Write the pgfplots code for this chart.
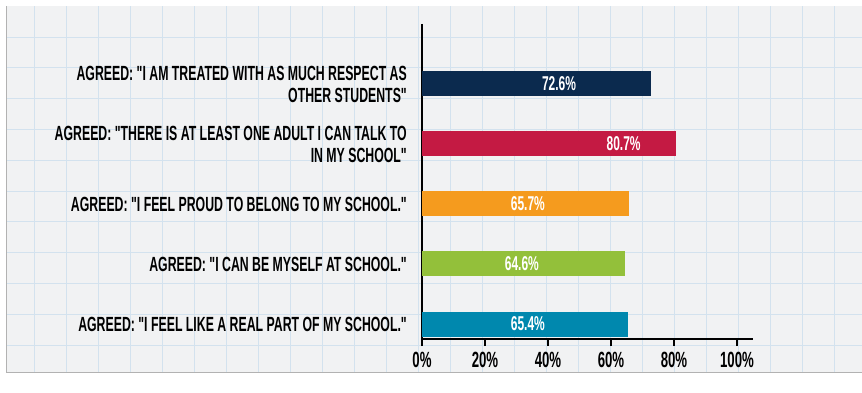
\documentclass[border=0pt]{standalone}
\usepackage{pgfplots}
\pgfplotsset{compat=1.18}
\usepackage{fontspec}
\setmainfont{Liberation Sans}
\newfontfamily\hand[FakeStretch=0.6]{Liberation Sans Bold}

\definecolor{barnavy}{HTML}{0B2A4E}
\definecolor{barred}{HTML}{C41A43}
\definecolor{barorange}{HTML}{F59B1E}
\definecolor{bargreen}{HTML}{93C03A}
\definecolor{barteal}{HTML}{0088AE}
\definecolor{paper}{HTML}{F1F2F3}
\definecolor{gridc}{HTML}{D3E2EE}

\begin{document}
\begin{tikzpicture}[x=1pt,y=1pt,
  hbar/.style={xbar, bar shift=0pt, bar width=25pt, draw=none},
]
\path[use as bounding box] (0,0) rectangle (862,393);
% graph paper
\fill[paper] (6,21) rectangle (862,387);
\foreach \x in {34,66,...,862} \draw[gridc, line width=0.9pt] (\x,21) -- (\x,387);
\foreach \k in {1,...,11} {
  \pgfmathsetmacro{\yy}{393-6.2-30.8*\k}
  \draw[gridc, line width=0.9pt] (6,\yy) -- (862,\yy);
}
\draw[gray!60, line width=0.8pt] (6,21) -- (862,21);
\draw[gray!60, line width=0.8pt] (6,21) -- (6,387);

\begin{axis}[
  at={(422pt,54pt)}, anchor=south west,
  scale only axis,
  width=330.75pt, height=315pt,
  xmin=0, xmax=105, ymin=0, ymax=5.25,
  y dir=reverse,
  axis x line*=bottom, axis y line*=left,
  axis line style={line width=2.8pt, -},
  xtick={0,20,40,60,80,100},
  xticklabels={0\%,20\%,40\%,60\%,80\%,100\%},
  tick align=outside,
  major tick length=7pt,
  x tick style={line width=1.8pt, black},
  y tick style={draw=none},
  ytick={1,2,3,4,5},
  yticklabels={
    {AGREED: "I AM TREATED WITH AS MUCH RESPECT AS\\OTHER STUDENTS"},
    {AGREED: "THERE IS AT LEAST ONE ADULT I CAN TALK TO\\IN MY SCHOOL"},
    {AGREED: "I FEEL PROUD TO BELONG TO MY SCHOOL."},
    {AGREED: "I CAN BE MYSELF AT SCHOOL."},
    {AGREED: "I FEEL LIKE A REAL PART OF MY SCHOOL."}},
  y tick label style={align=right, font=\hand\fontsize{20.5}{22}\selectfont, inner sep=0pt, xshift=-8pt},
  x tick label style={font=\hand\fontsize{22}{22}\selectfont, inner sep=0pt, yshift=-6pt},
]
\addplot[hbar, fill=barnavy] coordinates {(72.6,1)};
\addplot[hbar, fill=barred] coordinates {(80.7,2)};
\addplot[hbar, fill=barorange] coordinates {(65.7,3)};
\addplot[hbar, fill=bargreen] coordinates {(64.6,4)};
\addplot[hbar, fill=barteal] coordinates {(65.4,5)};

% value labels: x = label centre, v = value
\addplot[only marks, mark=none,
  point meta=explicit,
  nodes near coords={\pgfmathprintnumber[fixed, precision=1, fixed zerofill, assume math mode=true]{\pgfplotspointmeta}\%},
  nodes near coords style={anchor=center, text=white, font=\hand\fontsize{20}{22}\selectfont, inner sep=0pt},
] table[x=x, y=y, meta=v] {
x    y v
43.5 1 72.6
64.0 2 80.7
33.6 3 65.7
31.7 4 64.6
33.6 5 65.4
};
\end{axis}
\end{tikzpicture}
\end{document}
